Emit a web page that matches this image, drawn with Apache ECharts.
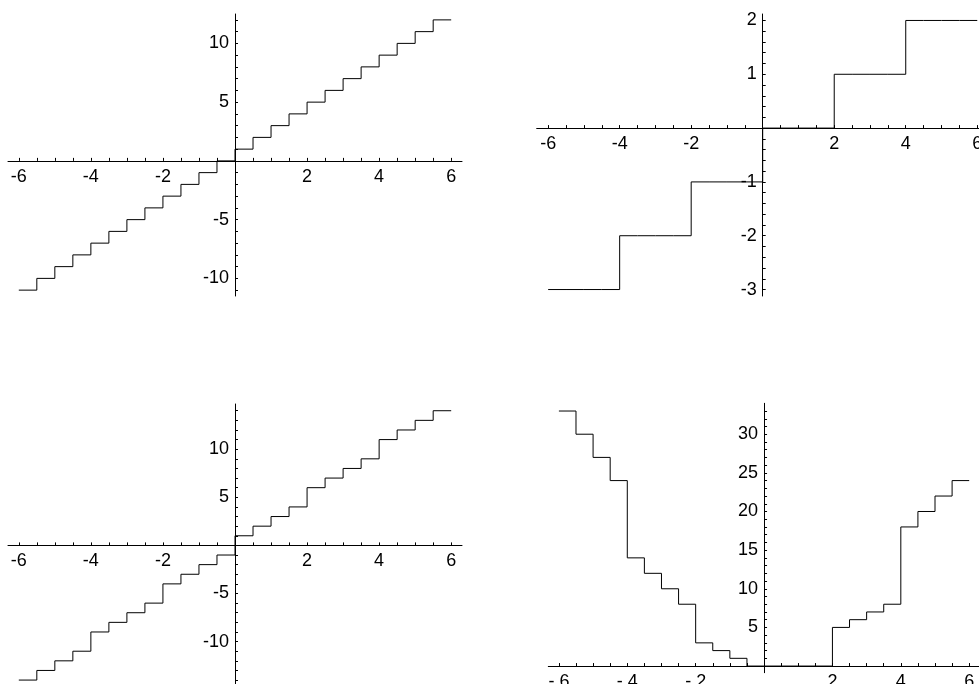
<!DOCTYPE html>
<html>
<head>
<meta charset="utf-8">
<title>Step functions</title>
<script src="https://cdn.jsdelivr.net/npm/echarts@6/dist/echarts.min.js"></script>
<style>
  html, body { margin: 0; padding: 0; background: #fff; }
  #chart { width: 979px; height: 684px; }
</style>
</head>
<body>
<div id="chart"></div>
<script>
// Left edges of each half-unit step, plus the closing x at 6
const xBreaks = [-6, -5.5, -5, -4.5, -4, -3.5, -3, -2.5, -2, -1.5, -1, -0.5,
                 0, 0.5, 1, 1.5, 2, 2.5, 3, 3.5, 4, 4.5, 5, 5.5, 6];

// Step heights on each half-unit interval, one array per panel
const stepsTopLeft = [-11, -10, -9, -8, -7, -6, -5, -4, -3, -2, -1, 0,
                      1, 2, 3, 4, 5, 6, 7, 8, 9, 10, 11, 12];
const stepsTopRight = [-3, -3, -3, -3, -2, -2, -2, -2, -1, -1, -1, -1,
                       0, 0, 0, 0, 1, 1, 1, 1, 2, 2, 2, 2];
const stepsBottomLeft = [-14, -13, -12, -11, -9, -8, -7, -6, -4, -3, -2, -1,
                         1, 2, 3, 4, 6, 7, 8, 9, 11, 12, 13, 14];
const stepsBottomRight = [33, 30, 27, 24, 14, 12, 10, 8, 3, 2, 1, 0,
                          0, 0, 0, 0, 5, 6, 7, 8, 18, 20, 22, 24];

// Tick labels
const xLabels = [-6, -4, -2, 2, 4, 6];
const yLabelsTopLeft = [-10, -5, 5, 10];
const yLabelsTopRight = [-3, -2, -1, 1, 2];
const yLabelsBottomLeft = [-10, -5, 5, 10];
const yLabelsBottomRight = [5, 10, 15, 20, 25, 30];

// Tick mark positions
const xTicks = [-6, -5.5, -5, -4.5, -4, -3.5, -3, -2.5, -2, -1.5, -1, -0.5,
                0.5, 1, 1.5, 2, 2.5, 3, 3.5, 4, 4.5, 5, 5.5, 6];
const yTicksTopLeft = [-11, -10, -9, -8, -7, -6, -5, -4, -3, -2, -1,
                       1, 2, 3, 4, 5, 6, 7, 8, 9, 10, 11, 12];
const yTicksTopRight = [-3, -2.8, -2.6, -2.4, -2.2, -2, -1.8, -1.6, -1.4, -1.2, -1,
                        -0.8, -0.6, -0.4, -0.2, 0.2, 0.4, 0.6, 0.8, 1,
                        1.2, 1.4, 1.6, 1.8, 2];
const yTicksBottomLeft = [-14, -13, -12, -11, -10, -9, -8, -7, -6, -5, -4, -3, -2, -1,
                          1, 2, 3, 4, 5, 6, 7, 8, 9, 10, 11, 12, 13, 14];
const yTicksBottomRight = [1, 2, 3, 4, 5, 6, 7, 8, 9, 10, 11, 12, 13, 14, 15, 16, 17,
                           18, 19, 20, 21, 22, 23, 24, 25, 26, 27, 28, 29, 30, 31, 32, 33];

function stepPoints(values) {
  const pts = values.map((v, i) => [xBreaks[i], v]);
  pts.push([xBreaks[xBreaks.length - 1], values[values.length - 1]]);
  return pts;
}

const FONT = 'Liberation Sans, Arial, Helvetica, sans-serif';
const INK = '#000';
const LABEL_SIZE = 18;

// Panel frames: pixel box plus data ranges
const panels = [
  { left: 8,     top: 14,    width: 454,   height: 282,   x: [-6.3, 6.3],   y: [-11.5, 12.5],
    yLabels: yLabelsTopLeft, yTicks: yTicksTopLeft, steps: stepsTopLeft },
  { left: 536.7, top: 14,    width: 452,   height: 282,   x: [-6.32, 6.32], y: [-3.12, 2.12],
    yLabels: yLabelsTopRight, yTicks: yTicksTopRight, steps: stepsTopRight },
  { left: 8,     top: 404,   width: 454,   height: 282.8, x: [-6.3, 6.3],   y: [-14.7, 14.7],
    yLabels: yLabelsBottomLeft, yTicks: yTicksBottomLeft, steps: stepsBottomLeft },
  { left: 548.3, top: 403.3, width: 431.5, height: 269.4, x: [-6.31, 6.31], y: [-0.86, 34],
    yLabels: yLabelsBottomRight, yTicks: yTicksBottomRight, steps: stepsBottomRight,
    xFmt: v => (v < 0 ? '- ' + Math.abs(v) : String(v)) }
];

// Axes cross at the origin: shift each axis from the frame edge to zero
function xAxisFor(i, p) {
  const lift = p.height * (0 - p.y[0]) / (p.y[1] - p.y[0]);
  return {
    type: 'value', gridIndex: i, min: p.x[0], max: p.x[1],
    position: 'bottom', offset: -lift,
    axisLine: { show: true, onZero: false, lineStyle: { color: INK, width: 1 } },
    axisTick: { show: true, inside: true, length: 3, customValues: xTicks,
                lineStyle: { color: INK, width: 1 } },
    axisLabel: { show: true, customValues: xLabels, margin: 7, color: INK,
                 fontFamily: FONT, fontSize: LABEL_SIZE,
                 formatter: p.xFmt || (v => String(v)) },
    splitLine: { show: false }
  };
}

function yAxisFor(i, p) {
  const shift = p.width * (0 - p.x[0]) / (p.x[1] - p.x[0]);
  return {
    type: 'value', gridIndex: i, min: p.y[0], max: p.y[1],
    position: 'left', offset: -shift,
    axisLine: { show: true, onZero: false, lineStyle: { color: INK, width: 1 } },
    axisTick: { show: true, inside: true, length: 3, customValues: p.yTicks,
                lineStyle: { color: INK, width: 1 } },
    axisLabel: { show: true, customValues: p.yLabels, margin: 6, color: INK,
                 fontFamily: FONT, fontSize: LABEL_SIZE, formatter: v => String(v) },
    splitLine: { show: false }
  };
}

function stepSeries(i, values) {
  return {
    type: 'line', xAxisIndex: i, yAxisIndex: i,
    step: 'end', data: stepPoints(values),
    showSymbol: false, symbol: 'none', silent: true, animation: false,
    lineStyle: { color: INK, width: 1 },
    clip: false
  };
}

const chart = echarts.init(document.getElementById('chart'), null, { renderer: 'canvas' });

chart.setOption({
  backgroundColor: '#fff',
  animation: false,
  grid: panels.map(p => ({ left: p.left, top: p.top, width: p.width, height: p.height,
                           outerBoundsMode: 'none', containLabel: false })),
  xAxis: panels.map((p, i) => xAxisFor(i, p)),
  yAxis: panels.map((p, i) => yAxisFor(i, p)),
  series: panels.map((p, i) => stepSeries(i, p.steps))
});
</script>
</body>
</html>
